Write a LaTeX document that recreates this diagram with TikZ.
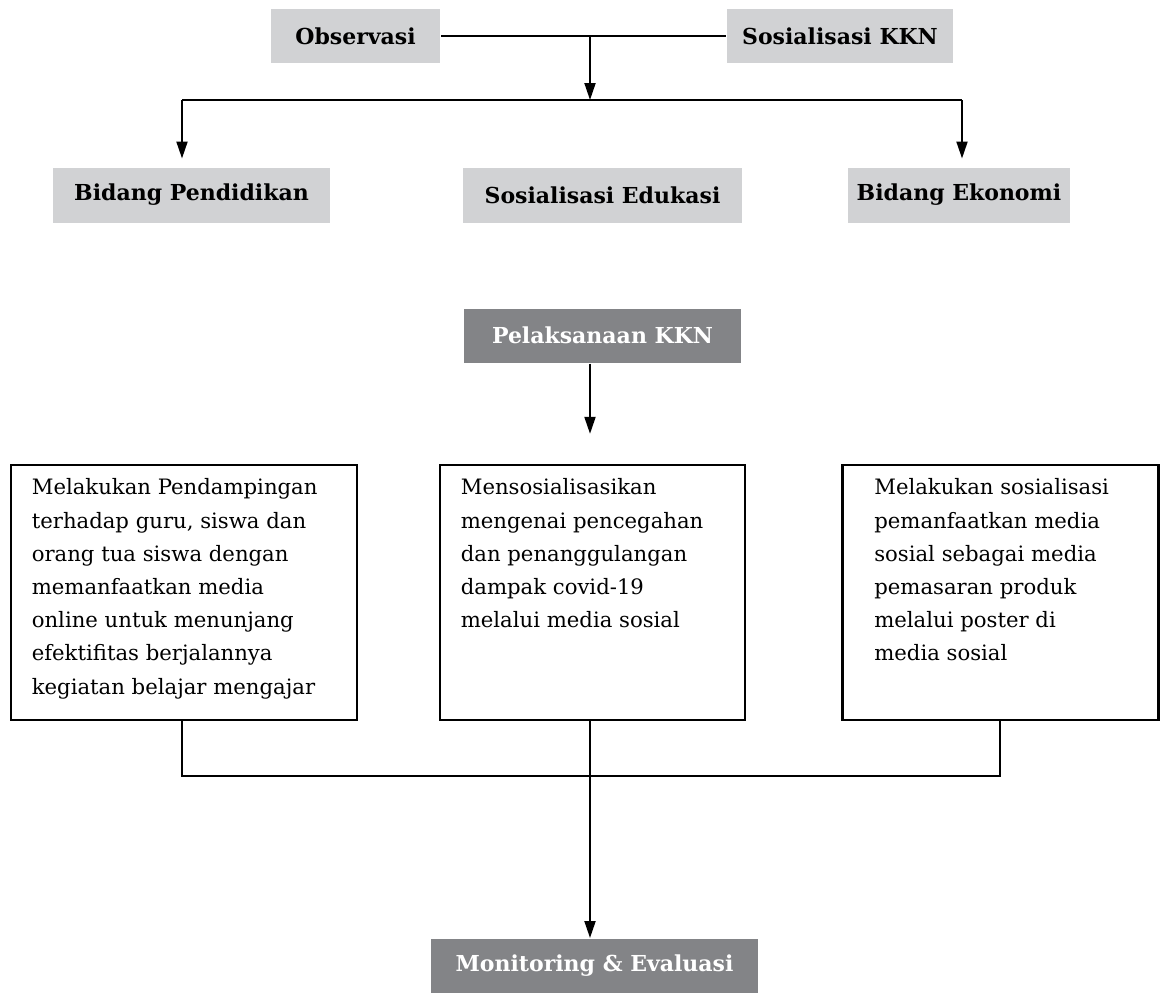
\documentclass[tikz,border=0pt]{standalone}
\usepackage{fontspec}
\setmainfont{DejaVu Serif}
\usepackage{tikz}
\usetikzlibrary{arrows.meta}
\definecolor{lightbox}{HTML}{D1D2D4}
\definecolor{darkbox}{HTML}{838487}

\begin{document}
\begin{tikzpicture}[x=0.5pt,y=-0.5pt,line width=1pt]
\tikzstyle{every node}+=[inner sep=0pt]
\tikzstyle{arr}=[-{Triangle[length=8.5pt,width=5.5pt]}]
\tikzstyle{head}=[fill=lightbox,font=\bfseries\fontsize{11}{13}\selectfont,minimum height=27.5pt]
\tikzstyle{darkhead}=[fill=darkbox,text=white,font=\bfseries\fontsize{11}{13}\selectfont,minimum height=27pt]
\tikzstyle{textbox}=[draw,line width=1.2pt,minimum height=127.5pt]
\tikzstyle{bodytext}=[align=left,font=\fontsize{10.6}{16.6}\selectfont]
\useasboundingbox (0,0) rectangle (1160,992);
\node [head,minimum width=84.5pt,minimum height=27pt] (obs) at (355.5,36) {Observasi};
\node [head,minimum width=113pt,minimum height=27pt] (sos) at (840,36) {Sosialisasi KKN};
\node [head,minimum width=138.5pt] (pend) at (191.5,195) {Bidang Pendidikan};
\node [head,minimum width=139.5pt] (edu) at (602.5,195) {Sosialisasi Edukasi};
\node [head,minimum width=111pt] (eko) at (959,195) {Bidang Ekonomi};
\node [darkhead,minimum width=138.5pt] (pel) at (602.5,335.5) {Pelaksanaan KKN};
\node [textbox,minimum width=173pt] (box1) at (184,592.5) {};
\node [textbox,minimum width=152.5pt] (box2) at (592.5,592.5) {};
\node [textbox,minimum width=158pt] (box3) at (1000.5,592.5) {};
\node [bodytext,anchor=north west] (box1t) at ([xshift=10.5pt,yshift=-7pt]box1.north west)
  {Melakukan Pendampingan\\terhadap guru, siswa dan\\orang tua siswa dengan\\memanfaatkan media\\online untuk menunjang\\efektifitas berjalannya\\kegiatan belajar mengajar};
\node [bodytext,anchor=north west] (box2t) at ([xshift=10.5pt,yshift=-7pt]box2.north west)
  {Mensosialisasikan\\mengenai pencegahan\\dan penanggulangan\\dampak covid-19\\melalui media sosial};
\node [bodytext,anchor=north west] (box3t) at ([xshift=16pt,yshift=-7pt]box3.north west)
  {Melakukan sosialisasi\\pemanfaatkan media\\sosial sebagai media\\pemasaran produk\\melalui poster di\\media sosial};
\node [darkhead,minimum width=163.5pt] (mon) at (594.5,966) {Monitoring \& Evaluasi};
\coordinate (top) at (590,36);
\coordinate (split) at (590,100);
\coordinate (splitl) at (182,100);
\coordinate (splitr) at (962,100);
\coordinate (joinl) at (182,776);
\coordinate (joinm) at (590,776);
\coordinate (joinr) at (1000,776);
\draw (obs) -- (sos);
\draw [arr] (top) -- (split);
\draw (splitl) -- (splitr);
\draw [arr,shorten >=4pt] (splitl) -- (splitl |- pend.north);
\draw [arr,shorten >=4pt] (splitr) -- (splitr |- eko.north);
\draw [arr,shorten >=15pt] (pel.south -| split) -- (box2.north -| split);
\draw (box1.south -| joinl) -- (joinl) -- (joinr) -- (box3.south -| joinr);
\draw [arr] (box2.south -| joinm) -- (mon.north -| joinm);
\end{tikzpicture}
\end{document}
